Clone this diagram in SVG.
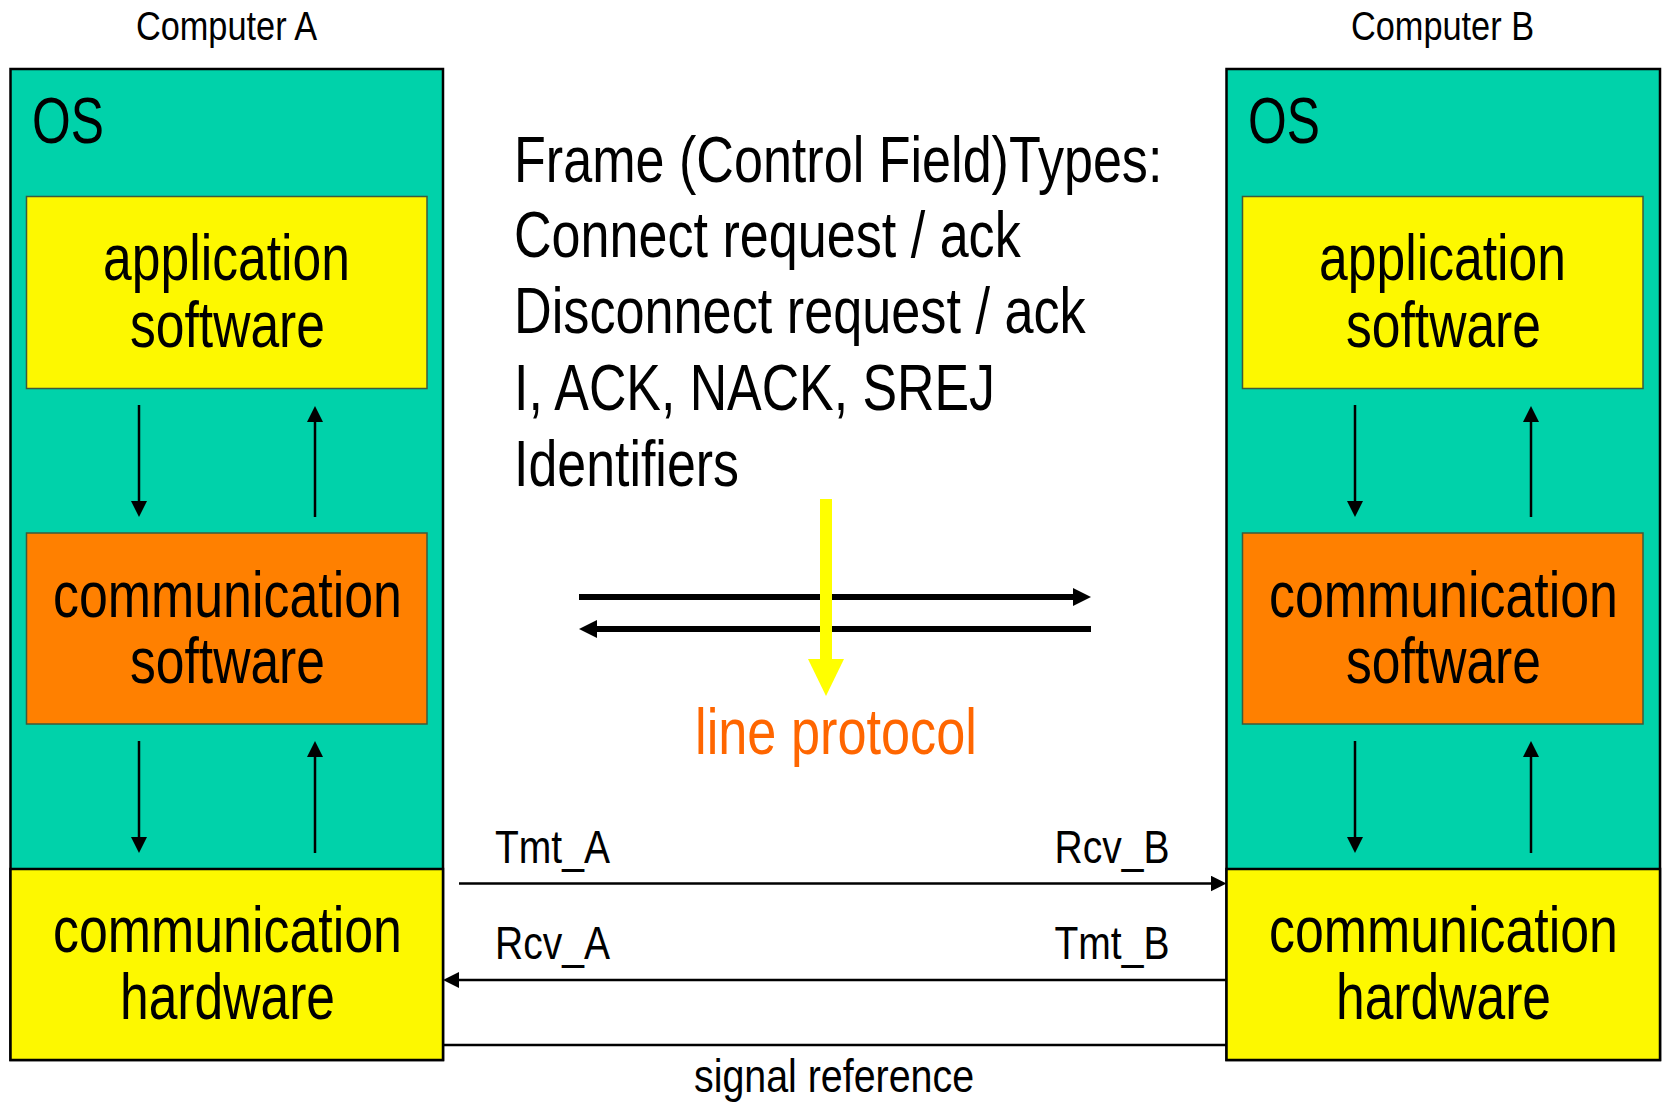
<svg xmlns="http://www.w3.org/2000/svg" width="1665" height="1110" viewBox="0 0 1665 1110">
  <style>
    text { font-family: "Liberation Sans", Arial, sans-serif; fill: #000; }
    .title { font-size: 40px; text-anchor: middle; }
    .big { font-size: 64px; }
    .box-label { font-size: 64px; text-anchor: middle; }
    .sig { font-size: 46px; }
    .os { fill: #00D2AA; stroke: #000; stroke-width: 2.5; }
    .app { fill: #FDF800; stroke: #3f5a3a; stroke-width: 1.5; }
    .comm { fill: #FF8000; stroke: #3f5a3a; stroke-width: 1.5; }
    .hw { fill: #FDF800; stroke: #000; stroke-width: 2.5; }
    .thin { stroke: #000; stroke-width: 2.5; fill: none; }
    .thick { stroke: #000; stroke-width: 6; fill: none; }
    .proto { fill: #FF6600; }
  </style>
  <defs>
    <marker id="headSmall" markerUnits="userSpaceOnUse" markerWidth="16" markerHeight="16" refX="4" refY="8" orient="auto">
      <path d="M0,0 L16,8 L0,16 z" fill="#000"/>
    </marker>
    <marker id="headBig" markerUnits="userSpaceOnUse" markerWidth="18" markerHeight="18" refX="5" refY="9" orient="auto">
      <path d="M0,0 L18,9 L0,18 z" fill="#000"/>
    </marker>
  </defs>

  <rect width="1665" height="1110" fill="#fff"/>

  <!-- Computer A (all labels use a condensed horizontal scale) -->
  <g id="computer-a">
    <text class="title" transform="translate(226.5,40) scale(0.858,1)">Computer A</text>
    <rect class="os" x="10.5" y="69" width="432.5" height="991"/>
    <text class="big" transform="translate(32,143) scale(0.778,1)">OS</text>
    <g id="app-a">
      <rect class="app" x="26.5" y="196.5" width="400.5" height="192"/>
      <text class="box-label" transform="translate(226.5,280) scale(0.807,1)">application</text>
      <text class="box-label" transform="translate(227.5,347) scale(0.806,1)">software</text>
    </g>
    <g id="comm-sw-a">
      <rect class="comm" x="26.5" y="533" width="400.5" height="191"/>
      <text class="box-label" transform="translate(227.5,617) scale(0.811,1)">communication</text>
      <text class="box-label" transform="translate(227.5,683) scale(0.806,1)">software</text>
    </g>
    <g id="comm-hw-a">
      <rect class="hw" x="10.5" y="869" width="432.5" height="191"/>
      <text class="box-label" transform="translate(227.5,952) scale(0.811,1)">communication</text>
      <text class="box-label" transform="translate(227.5,1019) scale(0.806,1)">hardware</text>
    </g>
  </g>

  <!-- Computer B -->
  <g id="computer-b">
    <text class="title" transform="translate(1442.5,40) scale(0.858,1)">Computer B</text>
    <rect class="os" x="1226.5" y="69" width="433.5" height="991"/>
    <text class="big" transform="translate(1248,143) scale(0.778,1)">OS</text>
    <g id="app-b">
      <rect class="app" x="1242.5" y="196.5" width="400.5" height="192"/>
      <text class="box-label" transform="translate(1442.5,280) scale(0.807,1)">application</text>
      <text class="box-label" transform="translate(1443.5,347) scale(0.806,1)">software</text>
    </g>
    <g id="comm-sw-b">
      <rect class="comm" x="1242.5" y="533" width="400.5" height="191"/>
      <text class="box-label" transform="translate(1443.5,617) scale(0.811,1)">communication</text>
      <text class="box-label" transform="translate(1443.5,683) scale(0.806,1)">software</text>
    </g>
    <g id="comm-hw-b">
      <rect class="hw" x="1226.5" y="869" width="433.5" height="191"/>
      <text class="box-label" transform="translate(1443.5,952) scale(0.811,1)">communication</text>
      <text class="box-label" transform="translate(1443.5,1019) scale(0.806,1)">hardware</text>
    </g>
  </g>

  <!-- Frame type list -->
  <g id="frame-types">
    <text class="big" transform="translate(514,182) scale(0.814,1)">Frame (Control Field)Types:</text>
    <text class="big" transform="translate(514,257) scale(0.814,1)">Connect request / ack</text>
    <text class="big" transform="translate(514,333) scale(0.816,1)">Disconnect request / ack</text>
    <text class="big" transform="translate(514,410) scale(0.81,1)">I, ACK, NACK, SREJ</text>
    <text class="big" transform="translate(514,486) scale(0.811,1)">Identifiers</text>
  </g>

  <!-- Connectors -->
  <g id="connectors">
    <!-- layer arrows, computer A -->
    <line class="thin" x1="139" y1="405" x2="139" y2="505" marker-end="url(#headSmall)"/>
    <line class="thin" x1="315" y1="517" x2="315" y2="418" marker-end="url(#headSmall)"/>
    <line class="thin" x1="139" y1="741" x2="139" y2="841" marker-end="url(#headSmall)"/>
    <line class="thin" x1="315" y1="853" x2="315" y2="753" marker-end="url(#headSmall)"/>
    <!-- layer arrows, computer B -->
    <line class="thin" x1="1355" y1="405" x2="1355" y2="505" marker-end="url(#headSmall)"/>
    <line class="thin" x1="1531" y1="517" x2="1531" y2="418" marker-end="url(#headSmall)"/>
    <line class="thin" x1="1355" y1="741" x2="1355" y2="841" marker-end="url(#headSmall)"/>
    <line class="thin" x1="1531" y1="853" x2="1531" y2="753" marker-end="url(#headSmall)"/>

    <!-- protocol exchange -->
    <line class="thick" x1="579" y1="597" x2="1078" y2="597" marker-end="url(#headBig)"/>
    <line class="thick" x1="1091" y1="629" x2="592" y2="629" marker-end="url(#headBig)"/>
    <line x1="826" y1="499" x2="826" y2="660" stroke="#FFFF00" stroke-width="12"/>
    <path d="M808,659 L844,659 L826,696 z" fill="#FFFF00"/>

    <!-- physical lines -->
    <line class="thin" x1="459" y1="883.5" x2="1214.5" y2="883.5" marker-end="url(#headSmall)"/>
    <line class="thin" x1="1226.5" y1="980" x2="455" y2="980" marker-end="url(#headSmall)"/>
    <line class="thin" x1="443" y1="1045" x2="1226.5" y2="1045"/>
  </g>

  <!-- Line labels -->
  <g id="labels">
    <text class="proto" font-size="64" text-anchor="middle" transform="translate(836,754) scale(0.817,1)">line protocol</text>
    <text class="sig" transform="translate(495,863) scale(0.849,1)">Tmt_A</text>
    <text class="sig" transform="translate(1054.5,863) scale(0.849,1)">Rcv_B</text>
    <text class="sig" transform="translate(495,959) scale(0.849,1)">Rcv_A</text>
    <text class="sig" transform="translate(1054.5,959) scale(0.849,1)">Tmt_B</text>
    <text class="sig" text-anchor="middle" transform="translate(834,1092) scale(0.856,1)">signal reference</text>
  </g>
</svg>
